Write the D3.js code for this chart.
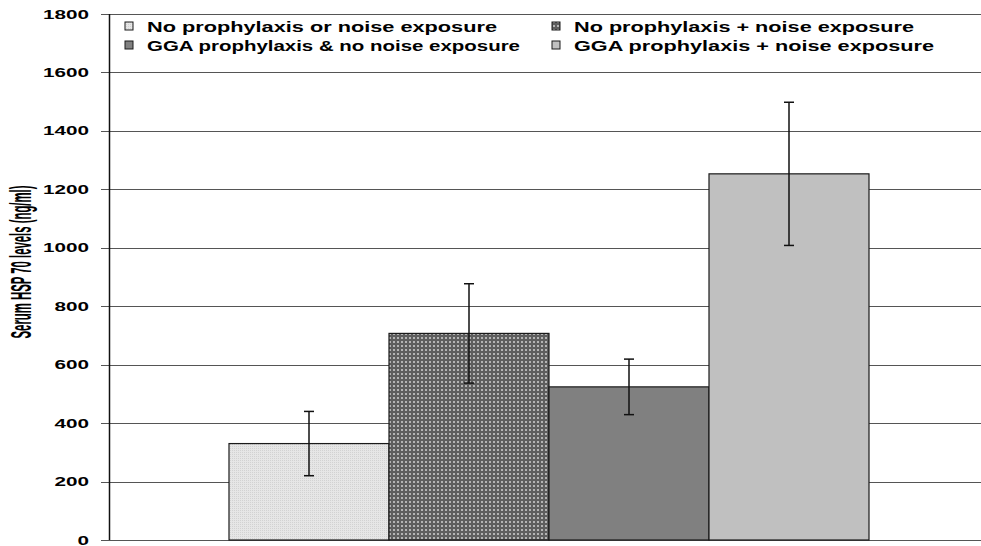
<!DOCTYPE html>
<html>
<head>
<meta charset="utf-8">
<script src="https://cdn.jsdelivr.net/npm/d3@7"></script>
<style>
  body { margin: 0; background: #fff; }
  text { font-family: "Liberation Sans", Arial, sans-serif; }
</style>
</head>
<body>
<svg id="chart" width="981" height="546"></svg>
<script>
// data
const groups = [
  "No prophylaxis or noise exposure",
  "No prophylaxis + noise exposure",
  "GGA prophylaxis & no noise exposure",
  "GGA prophylaxis + noise exposure"
];
const means = [330, 707, 524, 1253];
const errors = [110, 170, 95, 245];
const yTicks = [0, 200, 400, 600, 800, 1000, 1200, 1400, 1600, 1800];
const yLabel = "Serum HSP 70 levels (ng/ml)";

const svg = d3.select("#chart");

// plot area
const plotLeft = 109, plotRight = 981, plotTop = 14, plotBottom = 540;

const y = d3.scaleLinear().domain([0, 1800]).range([plotBottom, plotTop]);
const x = d3.scaleBand().domain(groups).range([plotLeft + 120, plotLeft + 760]);

// patterns
const defs = svg.append("defs");
const p1 = defs.append("pattern").attr("id", "pat1")
  .attr("width", 2).attr("height", 2).attr("patternUnits", "userSpaceOnUse");
p1.append("rect").attr("width", 2).attr("height", 2).attr("fill", "#e6e6e6");
p1.append("rect").attr("width", 1).attr("height", 1).attr("fill", "#d2d2d2");

const p2 = defs.append("pattern").attr("id", "pat2")
  .attr("width", 4).attr("height", 4).attr("patternUnits", "userSpaceOnUse");
p2.append("rect").attr("width", 4).attr("height", 4).attr("fill", "#5e5e5e");
p2.append("rect").attr("x", 1).attr("y", 1).attr("width", 2).attr("height", 2).attr("fill", "#b4b4b4");

const fills = ["url(#pat1)", "url(#pat2)", "#808080", "#c0c0c0"];

// gridlines
svg.append("g").selectAll("line")
  .data(yTicks)
  .join("line")
  .attr("x1", plotLeft - 8).attr("x2", plotRight)
  .attr("y1", d => Math.round(y(d)) + 0.5).attr("y2", d => Math.round(y(d)) + 0.5)
  .attr("stroke", "#555").attr("stroke-width", 1);

// axis line
svg.append("line")
  .attr("x1", plotLeft + 0.5).attr("x2", plotLeft + 0.5)
  .attr("y1", plotTop).attr("y2", plotBottom)
  .attr("stroke", "#111").attr("stroke-width", 1.5);

// tick labels (bold, stretched like the picture)
svg.append("g").selectAll("text")
  .data(yTicks)
  .join("text")
  .attr("x", 89).attr("y", d => y(d))
  .attr("dy", "0.36em")
  .attr("text-anchor", "end")
  .attr("font-size", 12.5).attr("font-weight", "bold")
  .attr("textLength", d => String(d).length * 11.5)
  .attr("lengthAdjust", "spacingAndGlyphs")
  .text(d => d);

// y label
svg.append("text")
  .attr("transform", "translate(31, 262) scale(2.4, 1) rotate(-90)")
  .attr("text-anchor", "middle")
  .attr("font-size", 12).attr("font-weight", "bold")
  .attr("textLength", 153)
  .attr("lengthAdjust", "spacingAndGlyphs")
  .text(yLabel);

// bars
svg.append("g").selectAll("rect")
  .data(groups)
  .join("rect")
  .attr("x", d => x(d))
  .attr("y", (d, i) => y(means[i]))
  .attr("width", x.bandwidth())
  .attr("height", (d, i) => y(0) - y(means[i]))
  .attr("fill", (d, i) => fills[i])
  .attr("stroke", "#1a1a1a").attr("stroke-width", 1.2);

// error bars
const eb = svg.append("g").attr("stroke", "#111").attr("stroke-width", 1.5);
groups.forEach((g, i) => {
  const cx = x(g) + x.bandwidth() / 2;
  const hi = y(means[i] + errors[i]), lo = y(means[i] - errors[i]);
  eb.append("line").attr("x1", cx).attr("x2", cx).attr("y1", hi).attr("y2", lo);
  eb.append("line").attr("x1", cx - 5).attr("x2", cx + 5).attr("y1", hi).attr("y2", hi);
  eb.append("line").attr("x1", cx - 5).attr("x2", cx + 5).attr("y1", lo).attr("y2", lo);
});

// legend, two rows by two columns
const legCols = [125, 552];
const legRows = [31.5, 50.5];
const legWidths = [350, 340, 373, 360];
groups.forEach((g, i) => {
  const cx = legCols[i % 2], by = legRows[Math.floor(i / 2)];
  svg.append("rect")
    .attr("x", cx).attr("y", by - 9.5)
    .attr("width", 8).attr("height", 8)
    .attr("fill", fills[i])
    .attr("stroke", "#1a1a1a").attr("stroke-width", 1);
  svg.append("text")
    .attr("x", cx + 22).attr("y", by)
    .attr("font-size", 15.5).attr("font-weight", "bold")
    .attr("textLength", legWidths[i])
    .attr("lengthAdjust", "spacingAndGlyphs")
    .text(g);
});
</script>
</body>
</html>
